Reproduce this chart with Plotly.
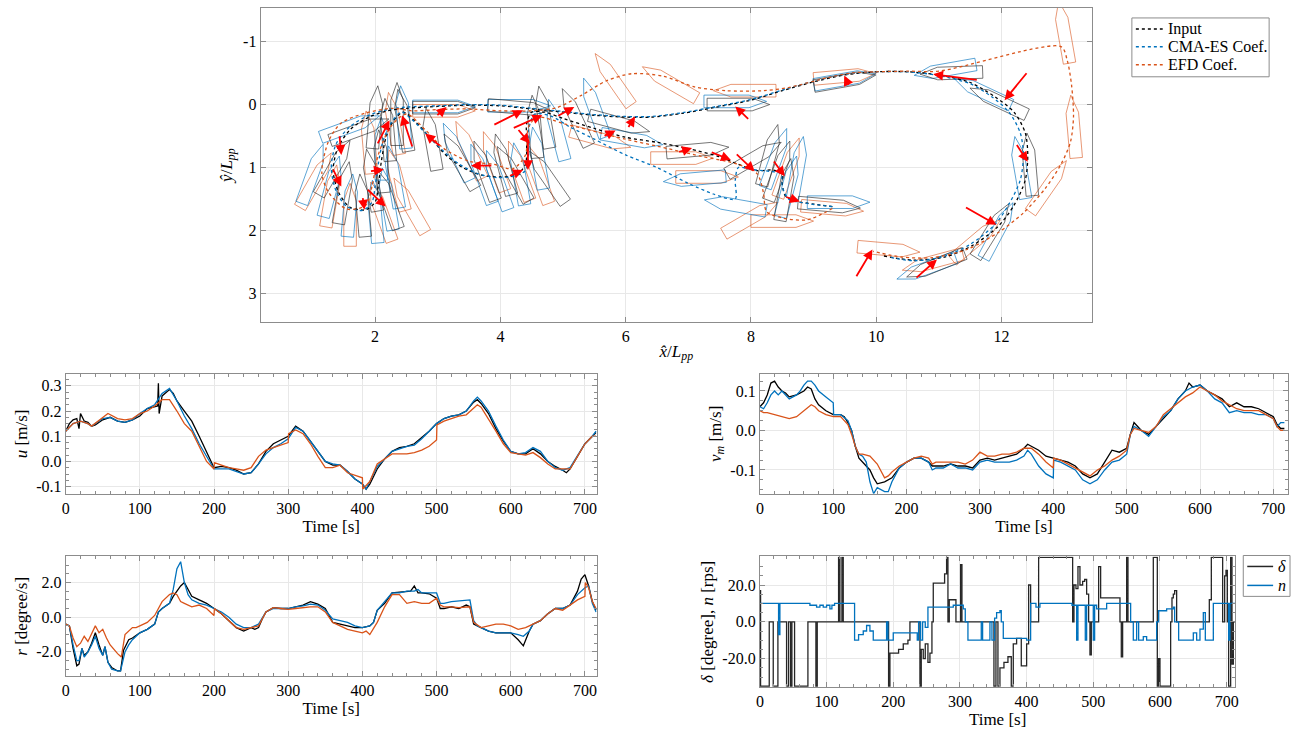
import numpy as np
import plotly.graph_objects as go

# ---------------- trajectory data (x/Lpp, y/Lpp) ----------------
input_x = [9.3, 9.0, 8.7, 8.55, 8.5, 8.5, 8.35, 8.1, 7.8, 7.5, 7.0, 6.5, 6.0, 5.5, 5.0, 4.7, 4.5, 4.42, 4.42, 4.4, 4.25, 4.0, 3.7, 3.4, 3.15, 2.9, 2.65, 2.45, 2.3, 2.18, 2.1, 2.05, 2.0, 1.85, 1.6, 1.42, 1.33, 1.4, 1.6, 1.9, 2.2, 2.5, 3.0, 3.5, 4.0, 4.5, 5.0, 5.5, 6.0, 6.4, 6.9, 7.4, 8.0, 8.5, 9.0, 9.5, 10.0, 10.5, 11.0, 11.5, 11.9, 12.2, 12.38, 12.42, 12.38, 12.2, 11.95, 11.55, 11.1, 10.6, 10.1]
input_y = [1.62, 1.58, 1.53, 1.45, 1.25, 1.1, 1.04, 1.05, 0.95, 0.83, 0.7, 0.6, 0.52, 0.38, 0.22, 0.12, 0.12, 0.3, 0.6, 0.95, 1.12, 1.15, 1.12, 1.0, 0.82, 0.55, 0.28, 0.12, 0.25, 0.5, 0.9, 1.3, 1.55, 1.67, 1.63, 1.4, 1.05, 0.7, 0.4, 0.2, 0.1, 0.06, 0.03, 0.01, 0.02, 0.07, 0.12, 0.17, 0.2, 0.2, 0.14, 0.05, -0.07, -0.22, -0.36, -0.47, -0.52, -0.52, -0.47, -0.35, -0.12, 0.12, 0.45, 0.8, 1.2, 1.6, 1.93, 2.23, 2.42, 2.47, 2.4]

cma_x = [9.3, 8.9, 8.6, 8.5, 8.48, 8.3, 8.0, 7.8, 7.75, 7.75, 7.4, 7.0, 6.5, 6.0, 5.5, 5.1, 4.8, 4.55, 4.45, 4.45, 4.4, 4.2, 3.95, 3.65, 3.35, 3.1, 2.85, 2.6, 2.42, 2.25, 2.12, 2.05, 2.0, 1.95, 1.8, 1.55, 1.38, 1.3, 1.38, 1.6, 1.9, 2.2, 2.5, 3.0, 3.5, 4.0, 4.5, 5.0, 5.5, 6.0, 6.4, 6.9, 7.4, 8.0, 8.5, 9.0, 9.5, 10.0, 10.5, 11.0, 11.5, 11.85, 12.12, 12.3, 12.35, 12.3, 12.12, 11.9, 11.5, 11.05, 10.6, 10.2]
cma_y = [1.62, 1.57, 1.5, 1.3, 1.1, 1.06, 1.03, 1.0, 1.2, 1.5, 1.42, 1.25, 1.0, 0.8, 0.55, 0.35, 0.18, 0.15, 0.4, 0.8, 1.05, 1.14, 1.16, 1.1, 0.95, 0.75, 0.5, 0.25, 0.12, 0.3, 0.6, 0.95, 1.3, 1.55, 1.68, 1.62, 1.38, 1.0, 0.62, 0.35, 0.17, 0.08, 0.04, 0.02, 0.0, 0.01, 0.06, 0.11, 0.16, 0.19, 0.19, 0.13, 0.04, -0.08, -0.23, -0.37, -0.48, -0.52, -0.52, -0.46, -0.33, -0.12, 0.12, 0.45, 0.8, 1.2, 1.58, 1.9, 2.22, 2.42, 2.48, 2.42]

efd_x = [9.3, 8.9, 8.5, 8.25, 8.2, 8.1, 7.8, 7.2, 6.5, 6.0, 5.4, 5.0, 4.6, 4.45, 4.4, 4.2, 3.9, 3.5, 3.1, 2.8, 2.5, 2.25, 2.05, 1.95, 1.85, 1.55, 1.26, 1.15, 1.25, 1.45, 1.83, 2.28, 2.6, 3.0, 3.5, 4.0, 4.5, 4.9, 5.3, 5.7, 6.1, 6.6, 7.1, 7.6, 8.2, 8.6, 9.2, 9.6, 10.0, 10.5, 11.0, 12.95, 13.05, 13.12, 13.15, 13.1, 12.95, 12.7, 12.35, 11.95, 11.45, 10.9, 10.4, 9.95]
efd_y = [1.65, 1.83, 1.8, 1.7, 1.4, 1.1, 0.95, 0.82, 0.66, 0.55, 0.4, 0.3, 0.2, 0.35, 0.8, 1.02, 0.95, 0.9, 0.7, 0.4, 0.15, 0.35, 0.8, 1.3, 1.6, 1.66, 1.4, 1.09, 0.6, 0.3, 0.14, 0.06, 0.1, 0.08, 0.07, 0.1, 0.1, 0.05, -0.15, -0.38, -0.49, -0.45, -0.28, -0.22, -0.22, -0.27, -0.42, -0.5, -0.52, -0.53, -0.53, -0.92, -0.7, -0.3, 0.2, 0.6, 0.95, 1.33, 1.72, 2.03, 2.3, 2.43, 2.42, 2.33]

# ship snapshots: centre x, centre y, heading [deg]
ship_in_x = [9.25, 8.55, 8.45, 8.3, 8.05, 7.15, 5.9, 5.2, 4.7, 4.55, 4.75, 4.2, 3.75, 3.35, 2.9, 2.45, 2.2, 2.1, 2.2, 1.8, 1.5, 1.35, 1.75, 2.35, 3.1, 4.3, 7.8, 9.5, 11.2, 11.95, 12.45, 11.85, 10.95, 1.95, 2.0, 4.05]
ship_in_y = [1.6, 1.35, 1.05, 0.8, 0.85, 0.72, 0.3, 0.2, 0.2, 0.35, 1.15, 1.1, 1.05, 0.9, 0.55, 0.25, 0.4, 0.9, 1.5, 1.6, 1.4, 1.0, 0.4, 0.15, 0.05, 0.05, 0.0, -0.38, -0.5, -0.05, 0.95, 2.0, 2.55, 1.2, 0.2, 0.95]
ship_in_psi = [5, -80, -70, -75, -30, -5, 15, -115, -100, -95, -125, -120, -110, -120, -100, -100, -95, -95, -110, -95, -80, -60, -20, -90, 0, 5, 0, -10, 178, -155, -95, -58, 158, -100, -85, -105]

ship_cma_x = [9.4, 8.75, 8.6, 8.4, 7.75, 7.1, 6.1, 5.5, 4.6, 4.3, 3.7, 3.3, 2.45, 2.2, 2.0, 1.6, 1.3, 1.0, 1.6, 2.1, 3.1, 4.3, 7.75, 9.5, 11.1, 11.7, 12.3, 11.95, 10.8, 4.9, 2.3, 3.95]
ship_cma_y = [1.55, 1.0, 1.3, 0.85, 1.6, 1.18, 0.55, 0.05, 0.85, 1.1, 1.1, 0.75, 0.2, 1.5, 1.7, 1.6, 1.3, 1.1, 0.35, 0.7, 0.03, 0.02, -0.05, -0.4, -0.55, -0.2, 1.0, 2.0, 2.6, 0.4, 1.15, 1.2]
ship_cma_psi = [0, -80, -75, -70, -170, 175, 10, -110, -100, -100, -110, -115, -95, -100, -95, -85, -75, -70, -20, -90, 0, 0, 0, -10, 170, -155, -100, -62, 160, -105, -100, -110]

ship_efd_x = [9.3, 8.5, 8.0, 8.6, 7.3, 6.9, 5.6, 4.6, 4.3, 3.9, 3.5, 2.35, 2.1, 1.6, 1.3, 1.05, 2.3, 1.9, 3.1, 5.8, 6.7, 7.9, 9.5, 13.0, 13.15, 12.75, 11.6, 10.9, 10.2, 2.55]
ship_efd_y = [1.65, 1.85, 1.8, 1.0, 1.15, 0.85, 0.55, 1.1, 1.05, 0.9, 0.72, 1.2, 1.7, 1.75, 1.45, 1.2, 0.3, 0.6, 0.1, -0.4, -0.35, -0.22, -0.45, -1.15, 0.35, 1.3, 2.15, 2.5, 2.3, 1.6]
ship_efd_psi = [5, 0, -30, -70, 0, 0, 15, -110, -110, -110, -115, -105, -110, -90, -80, -60, -100, -95, 0, -125, -150, 180, -5, -100, -95, -55, -40, 165, 5, -120]

# wind arrows: tail -> head
arrow_tail_x = [1.43, 1.32, 1.8, 1.86, 1.91, 2.03, 2.6, 3.05, 2.97, 3.88, 3.88, 4.19, 4.27, 4.44, 4.13, 4.9, 5.64, 6.03, 6.83, 7.35, 7.98, 7.75, 8.35, 8.54, 9.57, 11.63, 12.42, 12.23, 11.41, 9.67, 10.62]
arrow_tail_y = [0.48, 1.01, 1.46, 1.33, 1.06, 0.64, 0.69, 0.67, 0.19, 0.97, 0.33, 0.38, 0.38, 0.56, 1.14, 0.19, 0.51, 0.38, 0.76, 0.75, 0.25, 0.77, 0.88, 1.46, -0.29, -0.39, -0.52, 0.62, 1.62, 2.75, 2.77]
arrow_head_x = [1.46, 1.46, 1.83, 2.17, 2.14, 2.23, 2.43, 2.8, 3.14, 3.53, 4.36, 4.67, 4.47, 4.44, 4.36, 5.18, 5.84, 6.15, 7.06, 7.68, 7.75, 8.06, 8.54, 8.78, 9.49, 10.91, 12.05, 12.42, 11.92, 9.94, 10.97]
arrow_head_y = [0.8, 1.3, 1.67, 1.62, 1.03, 0.25, 0.17, 0.46, 0.04, 0.97, 0.09, 0.17, 0.62, 1.04, 1.04, 0.04, 0.41, 0.19, 0.69, 0.88, 0.03, 1.06, 1.14, 1.54, -0.46, -0.48, -0.07, 0.91, 1.91, 2.3, 2.46]

# ---------------- time series ----------------
u_t = [0, 5, 10, 15, 18, 20, 25, 30, 35, 40, 50, 60, 70, 80, 90, 100, 110, 120, 124, 125, 126, 130, 140, 145, 150, 160, 170, 180, 190, 200, 210, 220, 230, 240, 250, 260, 270, 280, 290, 300, 305, 310, 320, 330, 340, 350, 360, 370, 380, 390, 400, 405, 410, 420, 430, 440, 450, 460, 470, 480, 490, 500, 510, 520, 530, 540, 550, 555, 560, 570, 580, 590, 600, 610, 620, 630, 640, 650, 660, 670, 675, 680, 690, 700, 710, 715]
u_input = [0.12, 0.15, 0.165, 0.17, 0.13, 0.19, 0.16, 0.155, 0.14, 0.145, 0.165, 0.175, 0.16, 0.155, 0.165, 0.18, 0.21, 0.215, 0.22, 0.31, 0.19, 0.26, 0.285, 0.27, 0.24, 0.2, 0.16, 0.1, 0.04, -0.025, -0.02, -0.025, -0.035, -0.05, -0.045, -0.01, 0.04, 0.07, 0.085, 0.1, 0.12, 0.14, 0.12, 0.08, 0.04, 0.0, -0.015, -0.015, -0.04, -0.07, -0.09, -0.11, -0.09, -0.03, 0.01, 0.04, 0.055, 0.06, 0.07, 0.095, 0.12, 0.15, 0.17, 0.18, 0.185, 0.2, 0.235, 0.245, 0.23, 0.19, 0.13, 0.08, 0.04, 0.03, 0.03, 0.05, 0.03, 0.0, -0.02, -0.035, -0.045, -0.03, 0.02, 0.07, 0.1, 0.115]
u_cma_t = [0, 10, 20, 30, 35, 50, 60, 70, 80, 90, 100, 110, 120, 130, 140, 150, 160, 170, 180, 190, 200, 220, 240, 250, 260, 270, 280, 290, 300, 310, 320, 330, 340, 350, 360, 370, 380, 390, 400, 405, 410, 420, 430, 440, 450, 460, 470, 480, 490, 500, 510, 520, 530, 540, 550, 555, 560, 570, 580, 590, 600, 610, 620, 630, 640, 650, 660, 670, 680, 690, 700, 710, 715]
u_cma = [0.12, 0.15, 0.16, 0.15, 0.14, 0.17, 0.175, 0.16, 0.155, 0.165, 0.19, 0.21, 0.225, 0.27, 0.29, 0.24, 0.18, 0.13, 0.07, 0.02, -0.03, -0.03, -0.05, -0.045, -0.01, 0.03, 0.055, 0.07, 0.09, 0.135, 0.12, 0.08, 0.04, 0.0, -0.01, -0.015, -0.04, -0.07, -0.09, -0.11, -0.08, -0.02, 0.01, 0.04, 0.05, 0.06, 0.065, 0.09, 0.12, 0.15, 0.17, 0.18, 0.185, 0.2, 0.24, 0.255, 0.24, 0.2, 0.14, 0.085, 0.04, 0.03, 0.035, 0.055, 0.04, 0.0, -0.025, -0.035, -0.025, 0.02, 0.07, 0.1, 0.12]
u_efd_t = [0, 10, 20, 30, 35, 50, 57, 70, 80, 90, 100, 110, 120, 130, 140, 150, 160, 170, 180, 190, 200, 200.5, 210, 220, 230, 240, 250, 260, 270, 280, 290, 300, 300.5, 310, 320, 330, 340, 350, 360, 370, 380, 390, 400, 400.5, 410, 420, 430, 440, 450, 460, 470, 480, 490, 500, 500.5, 510, 520, 530, 540, 550, 555, 560, 570, 580, 590, 600, 610, 620, 630, 640, 650, 660, 670, 680, 690, 700, 710, 715]
u_efd = [0.12, 0.15, 0.16, 0.15, 0.14, 0.175, 0.19, 0.17, 0.165, 0.17, 0.19, 0.2, 0.22, 0.245, 0.245, 0.2, 0.15, 0.12, 0.06, 0.0, -0.03, -0.005, -0.015, -0.025, -0.03, -0.035, -0.025, 0.02, 0.045, 0.055, 0.065, 0.075, 0.11, 0.125, 0.11, 0.07, 0.02, -0.025, -0.025, -0.015, -0.045, -0.055, -0.065, -0.11, -0.08, -0.01, 0.01, 0.03, 0.03, 0.03, 0.035, 0.045, 0.06, 0.085, 0.145, 0.16, 0.17, 0.18, 0.185, 0.21, 0.225, 0.215, 0.17, 0.12, 0.07, 0.035, 0.03, 0.025, 0.035, 0.015, -0.01, -0.03, -0.03, -0.03, 0.02, 0.07, 0.1, 0.1]

r_t = [0, 5, 10, 15, 18, 22, 25, 30, 35, 40, 45, 50, 53, 57, 62, 70, 74, 78, 85, 90, 100, 110, 120, 125, 130, 140, 145, 150, 155, 160, 165, 170, 180, 190, 200, 210, 220, 230, 240, 250, 255, 260, 265, 270, 280, 290, 300, 310, 320, 330, 340, 350, 360, 370, 380, 390, 400, 410, 415, 420, 425, 430, 440, 450, 460, 465, 470, 475, 480, 490, 500, 505, 510, 520, 530, 540, 545, 550, 555, 560, 570, 580, 590, 600, 610, 617, 625, 630, 640, 650, 660, 670, 680, 690, 695, 700, 705, 710, 715]
r_input = [-0.4, -0.5, -1.8, -2.8, -2.7, -1.8, -2.2, -2.0, -1.5, -0.9, -1.6, -2.2, -1.7, -2.6, -2.9, -3.1, -3.1, -1.9, -1.3, -1.2, -0.9, -0.7, -0.4, 0.3, 0.5, 0.8, 1.2, 1.5, 1.8, 2.0, 1.6, 1.2, 1.0, 0.8, 0.5, 0.2, -0.2, -0.6, -0.8, -0.6, -0.7, -0.6, -0.1, 0.3, 0.55, 0.5, 0.5, 0.6, 0.7, 0.9, 0.75, 0.5, -0.3, -0.4, -0.5, -0.6, -0.6, -0.5, -0.3, 0.4, 0.6, 0.8, 1.4, 1.45, 1.5, 1.5, 1.8, 1.4, 1.4, 1.35, 1.1, 0.5, 0.5, 0.6, 0.5, 0.7, 0.6, -0.4, -0.5, -0.6, -0.8, -0.9, -0.9, -0.9, -1.3, -1.65, -0.8, -0.4, -0.2, 0.2, 0.5, 0.5, 0.7, 1.5, 2.2, 2.45, 1.8, 0.9, 0.4]
r_cma_t = [0, 5, 10, 15, 18, 22, 25, 30, 35, 40, 45, 50, 53, 57, 62, 70, 74, 80, 85, 90, 100, 110, 120, 125, 130, 140, 145, 150, 155, 160, 165, 170, 180, 190, 200, 210, 220, 230, 240, 250, 260, 270, 280, 290, 300, 310, 320, 330, 340, 350, 360, 370, 380, 390, 400, 410, 415, 420, 430, 440, 450, 460, 470, 475, 480, 490, 500, 505, 510, 520, 530, 540, 545, 550, 555, 560, 570, 580, 590, 600, 610, 617, 625, 630, 640, 650, 660, 670, 680, 690, 700, 705, 710, 715]
r_cma = [-0.4, -0.5, -1.6, -2.5, -2.5, -1.8, -2.3, -2.0, -1.6, -1.1, -1.8, -2.2, -1.7, -2.6, -3.0, -3.1, -3.1, -2.0, -1.6, -1.3, -0.9, -0.7, -0.4, 0.3, 0.5, 0.8, 1.6, 2.8, 3.2, 2.0, 1.3, 1.0, 0.8, 0.7, 0.5, 0.3, 0.0, -0.4, -0.6, -0.6, -0.4, 0.3, 0.5, 0.5, 0.5, 0.6, 0.65, 0.75, 0.7, 0.4, -0.1, -0.2, -0.3, -0.5, -0.6, -0.5, -0.3, 0.4, 0.9, 1.4, 1.4, 1.5, 1.5, 1.6, 1.4, 1.4, 1.4, 0.8, 0.8, 0.9, 0.95, 1.0, 1.0, -0.2, -0.5, -0.6, -0.8, -0.9, -0.9, -0.9, -1.0, -1.1, -0.8, -0.4, -0.2, 0.2, 0.5, 0.5, 0.7, 1.3, 1.7, 1.8, 0.8, 0.3]
r_efd_t = [0, 5, 10, 15, 20, 25, 30, 35, 40, 45, 50, 55, 60, 70, 75, 80, 85, 90, 95, 100, 110, 120, 125, 130, 140, 145, 150, 155, 160, 170, 180, 190, 200, 200.5, 210, 220, 230, 240, 250, 260, 270, 280, 290, 300, 310, 320, 330, 340, 350, 360, 370, 380, 390, 400, 405, 410, 420, 430, 440, 450, 460, 470, 480, 490, 500, 505, 510, 520, 530, 540, 545, 550, 560, 570, 580, 590, 600, 610, 620, 625, 630, 640, 650, 660, 670, 680, 690, 700, 700.5, 705, 710, 715]
r_efd = [-0.4, -0.5, -1.2, -1.7, -1.5, -1.1, -1.4, -0.9, -0.5, -0.9, -0.7, -1.2, -1.6, -2.1, -2.3, -1.0, -0.8, -0.6, -0.6, -0.5, -0.3, 0.1, 0.5, 0.9, 1.3, 1.4, 1.3, 0.9, 0.8, 0.6, 0.7, 0.5, 0.1, 0.5, 0.2, -0.2, -0.6, -0.7, -0.6, -0.5, 0.3, 0.55, 0.5, 0.45, 0.5, 0.55, 0.6, 0.6, 0.3, -0.3, -0.5, -0.7, -0.8, -0.9, -0.8, -1.0, -0.3, 0.6, 1.3, 1.3, 0.8, 0.9, 0.8, 0.8, 1.1, 0.7, 0.6, 0.6, 0.55, 0.6, 0.6, -0.3, -0.6, -0.5, -0.4, -0.4, -0.5, -0.7, -0.6, -0.5, -0.4, -0.2, 0.2, 0.5, 0.4, 0.7, 1.0, 1.2, 2.0, 1.7, 0.9, 0.5]

v_t = [0, 5, 10, 15, 20, 25, 30, 35, 40, 50, 60, 65, 70, 75, 80, 90, 100, 110, 115, 120, 125, 130, 135, 140, 150, 155, 160, 170, 180, 190, 200, 210, 220, 230, 235, 240, 250, 260, 270, 280, 290, 300, 310, 320, 330, 340, 350, 360, 365, 370, 380, 390, 400, 410, 420, 430, 440, 450, 460, 470, 480, 490, 500, 505, 510, 515, 520, 530, 540, 550, 560, 570, 580, 585, 590, 600, 610, 620, 630, 640, 650, 660, 670, 680, 690, 700, 705, 710, 715]
v_input = [0.06, 0.07, 0.09, 0.12, 0.125, 0.11, 0.1, 0.095, 0.085, 0.09, 0.1, 0.11, 0.105, 0.08, 0.065, 0.05, 0.04, 0.04, 0.035, 0.02, 0.0, -0.04, -0.07, -0.08, -0.1, -0.12, -0.135, -0.13, -0.12, -0.095, -0.08, -0.07, -0.07, -0.08, -0.09, -0.09, -0.09, -0.085, -0.09, -0.09, -0.095, -0.075, -0.07, -0.075, -0.07, -0.065, -0.06, -0.045, -0.035, -0.04, -0.05, -0.065, -0.07, -0.075, -0.08, -0.09, -0.11, -0.12, -0.11, -0.08, -0.05, -0.055, -0.045, -0.01, 0.02, 0.01, 0.0, -0.01, 0.01, 0.03, 0.05, 0.08, 0.1, 0.12, 0.11, 0.115, 0.1, 0.09, 0.08, 0.06, 0.07, 0.06, 0.06, 0.055, 0.045, 0.035, 0.015, 0.005, 0.005]
v_cma_t = [0, 5, 10, 15, 20, 25, 30, 35, 40, 45, 50, 55, 60, 65, 70, 75, 80, 90, 100, 100.5, 110, 120, 125, 130, 135, 140, 145, 150, 155, 160, 170, 175, 180, 190, 200, 210, 220, 230, 235, 240, 250, 260, 270, 280, 290, 300, 310, 320, 330, 340, 350, 360, 365, 370, 380, 390, 400, 400.5, 410, 420, 430, 440, 450, 460, 470, 480, 490, 500, 505, 510, 520, 530, 540, 550, 560, 570, 580, 590, 600, 610, 620, 630, 640, 650, 660, 670, 680, 690, 700, 705, 710, 715]
v_cma = [0.06, 0.055, 0.07, 0.09, 0.1, 0.09, 0.1, 0.09, 0.08, 0.085, 0.09, 0.1, 0.115, 0.125, 0.125, 0.115, 0.1, 0.085, 0.07, 0.04, 0.04, 0.025, 0.0, -0.04, -0.06, -0.065, -0.08, -0.13, -0.16, -0.145, -0.155, -0.155, -0.13, -0.095, -0.08, -0.07, -0.07, -0.08, -0.1, -0.095, -0.095, -0.085, -0.095, -0.095, -0.1, -0.08, -0.075, -0.08, -0.08, -0.08, -0.075, -0.065, -0.05, -0.06, -0.09, -0.11, -0.12, -0.075, -0.08, -0.09, -0.1, -0.125, -0.135, -0.125, -0.1, -0.08, -0.075, -0.06, -0.01, 0.01, 0.0, -0.015, 0.01, 0.035, 0.05, 0.08, 0.1, 0.11, 0.115, 0.1, 0.08, 0.07, 0.045, 0.05, 0.045, 0.045, 0.04, 0.04, 0.03, 0.01, 0.02, 0.02]
v_efd_t = [0, 5, 10, 20, 30, 40, 50, 60, 70, 75, 80, 90, 100, 110, 120, 125, 130, 135, 140, 150, 160, 170, 175, 180, 190, 200, 210, 220, 230, 235, 240, 250, 260, 270, 280, 290, 300, 310, 320, 330, 340, 350, 360, 370, 380, 390, 400, 400.5, 410, 420, 430, 440, 450, 460, 470, 480, 490, 500, 505, 510, 520, 530, 540, 550, 560, 570, 580, 590, 600, 610, 620, 630, 640, 650, 660, 670, 680, 690, 700, 705, 710, 715]
v_efd = [0.05, 0.045, 0.045, 0.04, 0.035, 0.03, 0.035, 0.05, 0.065, 0.06, 0.05, 0.04, 0.035, 0.035, 0.015, -0.01, -0.04, -0.06, -0.06, -0.065, -0.085, -0.12, -0.115, -0.105, -0.09, -0.08, -0.07, -0.065, -0.07, -0.085, -0.08, -0.08, -0.08, -0.08, -0.085, -0.075, -0.055, -0.065, -0.065, -0.06, -0.06, -0.055, -0.045, -0.045, -0.06, -0.08, -0.095, -0.07, -0.075, -0.085, -0.095, -0.105, -0.115, -0.1, -0.09, -0.075, -0.065, -0.05, -0.01, 0.005, 0.0, -0.005, 0.01, 0.04, 0.055, 0.07, 0.085, 0.095, 0.11, 0.1, 0.09, 0.075, 0.065, 0.055, 0.05, 0.05, 0.05, 0.04, 0.03, 0.01, 0.0, 0.0]

delta_t = [0, 1, 14, 20, 27, 40, 43, 46, 48, 52, 72, 84, 86, 118, 120, 123, 125, 193, 195, 208, 215, 222, 225, 240, 242, 245, 248, 252, 255, 258, 260, 277, 280, 282, 284, 294, 301, 303, 351, 354, 357, 360, 366, 372, 377, 380, 385, 392, 400, 403, 406, 418, 469, 471, 474, 477, 480, 484, 487, 490, 493, 495, 497, 508, 511, 540, 542, 544, 550, 552, 590, 596, 598, 600, 616, 618, 620, 622, 625, 674, 677, 694, 697, 699, 701, 703, 706, 708, 710, 716]
delta_deg = [17, -35, 0, -35, 0, -35, 0, -35, 0, -35, 0, -35, 0, 35, 0, 35, 0, -35, -17, -15, -12, -10, 0, -35, -15, -20, -12, -22, -17, 0, 21, 26, 35, 0, 12, 0, 31, 0, -35, 0, -35, -25, -22, -19, -35, -12, -9, -24, -12, 20, 0, 35, 0, 20, 18, 30, 20, 22, 23, 15, 0, -18, 0, 30, 13, 0, -19, 0, 35, 0, 35, -35, -20, -35, 0, 13, 15, 17, 0, 12, 35, 0, 25, 28, 0, -35, 35, -23, 0, 0]
n_t = [0, 27, 28, 30, 75, 85, 90, 95, 100, 105, 108, 112, 140, 142, 148, 155, 160, 165, 170, 190, 192, 200, 236, 238, 241, 244, 248, 252, 290, 305, 308, 312, 330, 332, 334, 345, 348, 352, 355, 360, 362, 365, 400, 406, 414, 420, 468, 475, 477, 488, 490, 500, 502, 505, 520, 555, 556, 560, 565, 568, 575, 580, 592, 595, 598, 610, 620, 622, 628, 645, 650, 655, 660, 665, 668, 680, 700, 703, 705, 716]
n_rps = [10, 10, -7, 10, 9, 8, 9, 8, 9, 7, 9, 10, 10, -10, -7, -5, -2, -5, -10, 0, -10, -6, -10, 0, -10, 0, -3, 8, 9, 7, 0, -10, -10, 0, -10, 0, -10, 2, 5, 6, 0, -9, -10, 10, 8, 10, 9, -10, 9, -10, 9, -10, 9, 7, 10, 10, 0, -10, 0, -10, -8, -10, -10, 0, 6, 7, 8, 0, -10, -10, -6, -10, -4, 5, -10, 10, 10, -10, 10, 10]

# tick labels
top_xticks = [2, 4, 6, 8, 10, 12]
top_yticks = [-1, 0, 1, 2, 3]
time_ticks = [0, 100, 200, 300, 400, 500, 600, 700]
u_ticks = [-0.1, 0.0, 0.1, 0.2, 0.3]
r_ticks = [-2.0, 0.0, 2.0]
v_ticks = [-0.1, 0.0, 0.1]
d_ticks = [-20.0, 0.0, 20.0]

# ---------------- styling ----------------
FONT = "Liberation Serif, Times New Roman, Times, serif"
C_IN, C_CMA, C_EFD = "#000000", "#0072BD", "#D95319"
C_DELTA = "#262626"
SHIP_C = {"in": "rgba(40,40,40,0.8)", "cma": "rgba(0,114,189,0.8)", "efd": "rgba(217,83,25,0.75)"}
W, H = 1298, 738


def ship_outline(xs, ys, psis, L=1.0, B=0.2):
    body = np.array([[-0.5, -0.5], [0.22, -0.5], [0.5, 0.0], [0.22, 0.5], [-0.5, 0.5], [-0.5, -0.5]])
    body = body * np.array([L, B])
    ox, oy = [], []
    for xc, yc, p in zip(xs, ys, psis):
        a = np.deg2rad(p)
        c, s = np.cos(a), np.sin(a)
        px = xc + c * body[:, 0] - s * body[:, 1]
        py = yc + s * body[:, 0] + c * body[:, 1]
        ox += list(px) + [None]
        oy += list(py) + [None]
    return ox, oy


def fmt(vals, nd):
    return [f"{v:.{nd}f}" for v in vals]


fig = go.Figure()

for key, (sx, sy, sp) in {"efd": (ship_efd_x, ship_efd_y, ship_efd_psi),
                           "cma": (ship_cma_x, ship_cma_y, ship_cma_psi),
                           "in": (ship_in_x, ship_in_y, ship_in_psi)}.items():
    ox, oy = ship_outline(sx, sy, sp)
    fig.add_trace(go.Scatter(x=ox, y=oy, mode="lines", line=dict(color=SHIP_C[key], width=0.8),
                             showlegend=False, hoverinfo="skip", xaxis="x", yaxis="y"))

traj = [("Input", input_x, input_y, C_IN),
        ("CMA-ES Coef.", cma_x, cma_y, C_CMA),
        ("EFD Coef.", efd_x, efd_y, C_EFD)]
for name, xs, ys, col in traj:
    fig.add_trace(go.Scatter(x=xs, y=ys, mode="lines", name=name, showlegend=False,
                             line=dict(color=col, width=1.3, dash="dot", shape="spline", smoothing=0.8),
                             xaxis="x", yaxis="y"))


def ts(t, v, col, ax, w=1.3, shape="linear"):
    fig.add_trace(go.Scatter(x=t, y=v, mode="lines", line=dict(color=col, width=w, shape=shape),
                             showlegend=False, xaxis="x" + ax, yaxis="y" + ax))


ts(u_t, u_input, C_IN, "2"); ts(u_cma_t, u_cma, C_CMA, "2"); ts(u_efd_t, u_efd, C_EFD, "2")
ts(r_t, r_input, C_IN, "3"); ts(r_cma_t, r_cma, C_CMA, "3"); ts(r_efd_t, r_efd, C_EFD, "3")
ts(v_t, v_input, C_IN, "4"); ts(v_cma_t, v_cma, C_CMA, "4"); ts(v_efd_t, v_efd, C_EFD, "4")
ts(delta_t, delta_deg, C_DELTA, "5", shape="hv")
ts(n_t, n_rps, C_CMA, "5", shape="hv")

ann = []
for tx, ty, hx, hy in zip(arrow_tail_x, arrow_tail_y, arrow_head_x, arrow_head_y):
    ann.append(dict(x=hx, y=hy, ax=tx, ay=ty, xref="x", yref="y", axref="x", ayref="y",
                    showarrow=True, arrowhead=2, arrowsize=1.1, arrowwidth=1.8,
                    arrowcolor="#FF0000", text="", standoff=0))

shapes = []


def legend_box(left, right, top, bot, entries, x_line0, x_line1, x_text, dash):
    shapes.append(dict(type="rect", xref="paper", yref="paper",
                       x0=left / W, x1=right / W, y0=1 - bot / H, y1=1 - top / H,
                       line=dict(color="#8c8c8c", width=1), fillcolor="white", layer="above"))
    for label, col, ypx in entries:
        shapes.append(dict(type="line", xref="paper", yref="paper", layer="above",
                           x0=x_line0 / W, x1=x_line1 / W, y0=1 - ypx / H, y1=1 - ypx / H,
                           line=dict(color=col, width=1.5, dash=dash)))
        ann.append(dict(x=x_text / W, y=1 - ypx / H, xref="paper", yref="paper", text=label,
                        showarrow=False, xanchor="left", yanchor="middle",
                        font=dict(family=FONT, size=16, color="#000")))


# trajectory legend (top right) and delta / n legend (bottom right)
legend_box(1134, 1272, 18, 77, [(n, c, y) for (n, _, _, c), y in zip(traj, [29, 47, 65])],
           1138, 1165, 1168, "dot")
legend_box(1246, 1293, 557, 598, [("<i>δ</i>", C_DELTA, 568), ("<i>n</i>", C_CMA, 587)],
           1250, 1276, 1279, "solid")


def px_dom_x(a, b):
    return [a / W, b / W]


def px_dom_y(top, bot):
    return [1 - bot / H, 1 - top / H]


def axis(dom, rng, tv, tt, **kw):
    d = dict(domain=dom, range=rng, tickvals=tv, ticktext=tt, showline=True, linecolor="#8c8c8c",
             linewidth=1, mirror="ticks", ticks="inside", ticklen=5, tickcolor="#8c8c8c",
             showgrid=True, gridcolor="#e8e8e8", gridwidth=1, zeroline=False,
             tickfont=dict(family=FONT, size=16, color="#000"))
    d.update(kw)
    return d


title_font = dict(family=FONT, size=17, color="#000")
minor_ts = dict(ticks="inside", ticklen=3, tickcolor="#8c8c8c", dtick=20, showgrid=False)


def minor_y(dt):
    return dict(ticks="inside", ticklen=3, tickcolor="#8c8c8c", dtick=dt, showgrid=False)


tt_time = [str(v) for v in time_ticks]

fig.update_layout(
    width=W, height=H, margin=dict(l=0, r=0, t=0, b=0),
    paper_bgcolor="white", plot_bgcolor="white",
    font=dict(family=FONT, size=16, color="#000"),
    annotations=ann, shapes=shapes, showlegend=False,
    xaxis=axis(px_dom_x(258, 1094), [0.172, 13.447], top_xticks, [str(v) for v in top_xticks], anchor="y",
               title=dict(text="<i>x\u0302</i>/<i>L</i><sub><i>pp</i></sub>", font=title_font, standoff=0)),
    yaxis=axis(px_dom_y(8, 323), [3.454, -1.533], top_yticks, [str(v) for v in top_yticks], anchor="x",
               title=dict(text="<i>y\u0302</i>/<i>L</i><sub><i>pp</i></sub>", font=title_font, standoff=6)),
    xaxis2=axis(px_dom_x(62, 596), [0, 716], time_ticks, tt_time, anchor="y2", minor=minor_ts,
                title=dict(text="Time [s]", font=title_font, standoff=0)),
    yaxis2=axis(px_dom_y(375, 495), [-0.128, 0.347], u_ticks, fmt(u_ticks, 1), anchor="x2",
                minor=minor_y(0.025),
                title=dict(text="<i>u</i> [m/s]", font=title_font, standoff=4)),
    xaxis3=axis(px_dom_x(62, 596), [0, 716], time_ticks, tt_time, anchor="y3", minor=minor_ts,
                title=dict(text="Time [s]", font=title_font, standoff=0)),
    yaxis3=axis(px_dom_y(558, 678), [-3.4, 3.5], r_ticks, fmt(r_ticks, 1), anchor="x3",
                minor=minor_y(0.5),
                title=dict(text="<i>r</i> [degree/s]", font=title_font, standoff=4)),
    xaxis4=axis(px_dom_x(760, 1291), [0, 720], time_ticks, tt_time, anchor="y4", minor=minor_ts,
                title=dict(text="Time [s]", font=title_font, standoff=0)),
    yaxis4=axis(px_dom_y(375, 495), [-0.16, 0.143], v_ticks, fmt(v_ticks, 1), anchor="x4",
                minor=minor_y(0.025),
                title=dict(text="<i>v</i><sub><i>m</i></sub> [m/s]", font=title_font, standoff=4)),
    xaxis5=axis(px_dom_x(760, 1238), [0, 713], time_ticks, tt_time, anchor="y5", minor=minor_ts,
                title=dict(text="Time [s]", font=title_font, standoff=0)),
    yaxis5=axis(px_dom_y(558, 689), [-35.5, 35.5], d_ticks, fmt(d_ticks, 1), anchor="x5",
                minor=minor_y(5),
                title=dict(text="<i>δ</i> [degree], <i>n</i> [rps]", font=title_font, standoff=4)),
)
fig.write_html("out.html", config={"displayModeBar": False},
               post_script="document.body.style.margin='0px';document.body.style.overflow='hidden';")
